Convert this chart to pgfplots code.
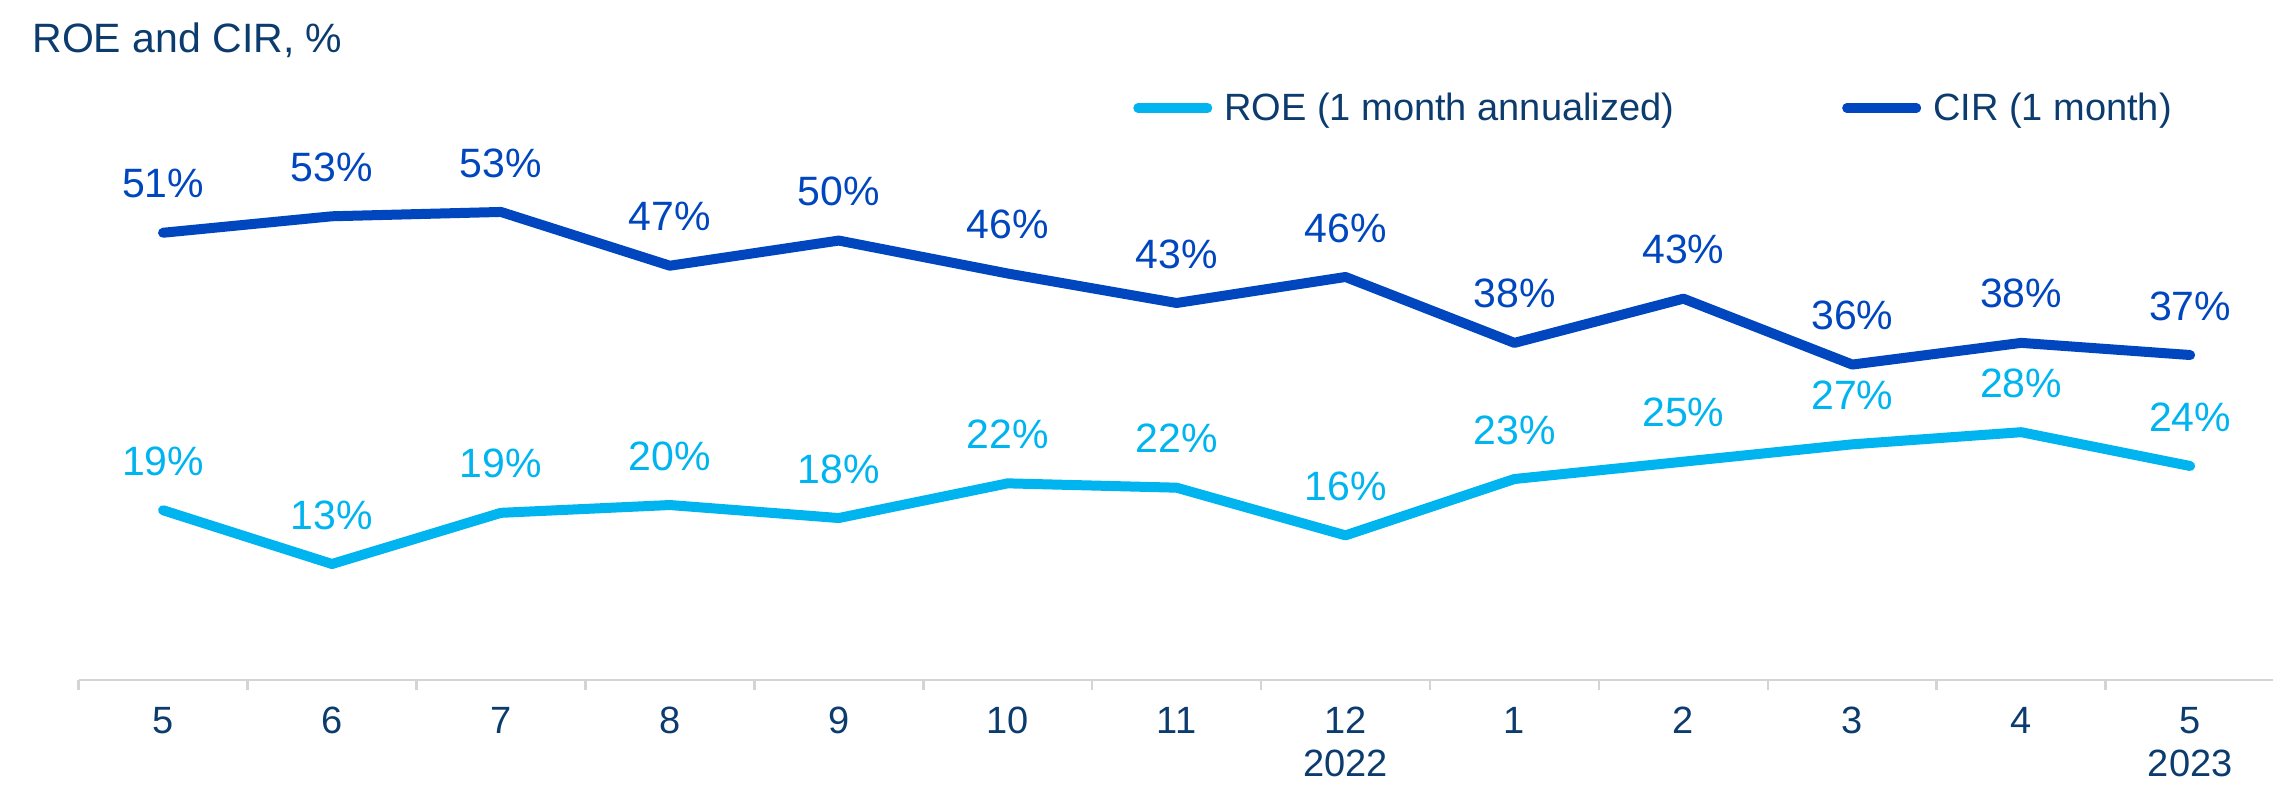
\documentclass[border=0pt]{standalone}
\usepackage{fontspec}
\setmainfont{Liberation Sans}
\usepackage{pgfplots}
\pgfplotsset{compat=1.18}
\definecolor{roe}{RGB}{0,180,240}
\definecolor{cir}{RGB}{0,70,190}
\definecolor{navy}{RGB}{12,60,110}
\definecolor{axgray}{RGB}{212,212,212}
\begin{document}
\begin{tikzpicture}
\useasboundingbox (0,0) rectangle (1136.5pt,392pt);
\begin{axis}[
  at={(39.3pt,52pt)}, anchor=south west,
  scale only axis, width=1098pt, height=306pt,
  xmin=-0.5, xmax=12.5, ymin=-0.58, ymax=70,
  axis x line*=bottom, axis y line=none,
  x axis line style={draw=axgray, line width=1.3pt},
  xtick={0,...,12},
  xticklabels={5,6,7,8,9,10,11,{12\\2022},1,2,3,4,{5\\2023}},
  major tick length=0pt,
  major x tick style={draw=none},
  minor xtick={-0.5,0.5,...,12.5},
  minor tick length=5pt,
  xtick align=outside,
  minor x tick style={draw=axgray, line width=1.3pt},
  xticklabel style={font=\fontsize{19}{21.5}\selectfont, text=navy, align=center, anchor=north, inner sep=0pt, yshift=-13.4pt},
  clip=false,
  title={ROE and CIR, \%},
  title style={at={(-0.0212,1.005)}, anchor=base west, inner sep=0pt, font=\fontsize{20.5}{24}\selectfont, text=navy},
  legend columns=2,
  legend cell align=left,
  legend image code/.code={\path (0pt,0pt) (39.5pt,0pt); \draw[#1, line width=4.6pt, line cap=round] (2.3pt,0pt) -- (37.2pt,0pt);},
  legend style={at={(0.478,0.9346)}, anchor=west, draw=none, fill=none, inner sep=0pt, outer sep=0pt,
    font=\fontsize{19}{22.5}\selectfont,
    nodes={inner sep=0pt, text=navy},
    /tikz/every odd column/.append style={column sep=3.5pt},
    /tikz/every even column/.append style={column sep=81.5pt}},
  point meta=explicit symbolic,
  nodes near coords,
]
\addplot[roe, line width=5pt, line join=round, line cap=round,
  every node near coord/.append style={anchor=center, yshift=24.5pt, inner sep=0pt, font=\fontsize{20.5}{24}\selectfont, text=roe}]
  coordinates {
  (0,19.0)[19\%] (1,12.8)[13\%] (2,18.7)[19\%] (3,19.6)[20\%] (4,18.1)[18\%]
  (5,22.1)[22\%] (6,21.6)[22\%] (7,16.1)[16\%] (8,22.6)[23\%] (9,24.6)[25\%]
  (10,26.6)[27\%] (11,28.0)[28\%] (12,24.1)[24\%]
  };
\addlegendentry{ROE (1 month annualized)}
\addplot[cir, line width=5pt, line join=round, line cap=round,
  every node near coord/.append style={anchor=center, yshift=24.5pt, inner sep=0pt, font=\fontsize{20.5}{24}\selectfont, text=cir}]
  coordinates {
  (0,51.0)[51\%] (1,52.9)[53\%] (2,53.4)[53\%] (3,47.2)[47\%] (4,50.1)[50\%]
  (5,46.3)[46\%] (6,42.9)[43\%] (7,45.9)[46\%] (8,38.3)[38\%] (9,43.4)[43\%]
  (10,35.8)[36\%] (11,38.3)[38\%] (12,36.9)[37\%]
  };
\addlegendentry{CIR (1 month)}
\end{axis}
\end{tikzpicture}
\end{document}
